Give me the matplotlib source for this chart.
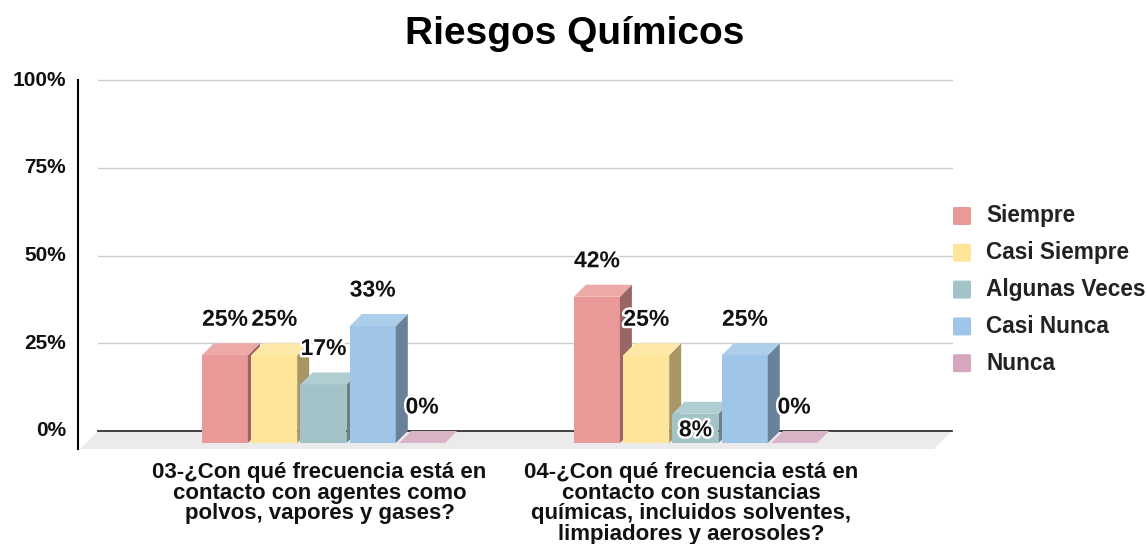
import numpy as np
import matplotlib.pyplot as plt
from matplotlib.patches import Polygon, FancyBboxPatch
import matplotlib.patheffects as pe
from matplotlib.colors import to_rgb

plt.rcParams['font.family'] = ['Liberation Sans', 'DejaVu Sans']
plt.rcParams['font.weight'] = 'bold'

categories = ['03-¿Con qué frecuencia está en\ncontacto con agentes como\npolvos, vapores y gases?',
              '04-¿Con qué frecuencia está en\ncontacto con sustancias\nquímicas, incluidos solventes,\nlimpiadores y aerosoles?']
series = ['Siempre', 'Casi Siempre', 'Algunas Veces', 'Casi Nunca', 'Nunca']
values = {
    'Siempre':       [25.0, 41.67],
    'Casi Siempre':  [25.0, 25.0],
    'Algunas Veces': [16.67, 8.33],
    'Casi Nunca':    [33.33, 25.0],
    'Nunca':         [0.0, 0.0],
}
labels = {
    'Siempre':       ['25%', '42%'],
    'Casi Siempre':  ['25%', '25%'],
    'Algunas Veces': ['17%', '8%'],
    'Casi Nunca':    ['33%', '25%'],
    'Nunca':         ['0%', '0%'],
}
colors = ['#EA9999', '#FFE599', '#A2C4C9', '#9FC5E8', '#D5A6BD']
yticks = [0, 25, 50, 75, 100]
ytick_labels = ['0%', '25%', '50%', '75%', '100%']

W, H = 1147, 544
fig = plt.figure(figsize=(W / 100, H / 100), dpi=100)
ax = fig.add_axes([0, 0, 1, 1])
ax.axis('off')

# pixel layout of the front plane: x=0 -> 323.5px, 1 unit = 372px; y=0 -> 443px, 100% = 351px
px_x = 372.0
px_y = 3.51
x0_px, y0_px = 323.5, 443.0
ax.set_xlim(-x0_px / px_x, (W - x0_px) / px_x)
ax.set_ylim(-(H - y0_px) / px_y, y0_px / px_y)

def X(px):
    return (px - x0_px) / px_x

DX = 12 / px_x   # depth offset
DY = 12 / px_y
pitch = 49.3 / px_x
bw = 46 / px_x

# the one label the original moved inside its bar (px offset from bar top, + = up)
label_lift = {('Algunas Veces', 1): -16}

wall_l, wall_r = X(98) - DX, X(952) - DX

# floor
t0 = -0.5
floor = Polygon([(wall_l + t0 * DX, t0 * DY), (wall_r + t0 * DX, t0 * DY),
                 (wall_r + DX, DY), (wall_l + DX, DY)],
                closed=True, facecolor='#EBEBEB', edgecolor='none', zorder=1)
ax.add_patch(floor)

for v in yticks[1:]:
    ax.plot([wall_l + DX, wall_r + DX], [v + DY, v + DY], color='#CCCCCC', lw=1, zorder=0.5)
ax.plot([wall_l + DX, wall_r + DX], [DY, DY], color='#333333', lw=1.3, zorder=1.5)

# y axis line
ax.plot([X(78), X(78)], [100 + DY, -6 / px_y], color='black', lw=1.5, zorder=2)

for v, lab in zip(yticks, ytick_labels):
    ax.text(X(66), v + DY, lab, ha='right', va='center', fontsize=15,
            fontweight='bold', color='#111111')

def shade(c, f):
    r = np.array(to_rgb(c))
    return tuple(r * f)

def tint(c, f):
    r = np.array(to_rgb(c))
    return tuple(r + (1 - r) * f)

z = 3
for gi in range(len(categories)):
    start = gi - (len(series) * pitch - (pitch - bw)) / 2
    for si, name in enumerate(series):
        v = values[name][gi]
        c = colors[si]
        xl = start + si * pitch
        xr = xl + bw
        if v > 0:
            ax.add_patch(Polygon([(xl, 0), (xr, 0), (xr, v), (xl, v)], closed=True,
                                 facecolor=c, edgecolor='none', zorder=z))
            ax.add_patch(Polygon([(xr, 0), (xr + DX, DY), (xr + DX, v + DY), (xr, v)], closed=True,
                                 facecolor=shade(c, 0.66), edgecolor='none', zorder=z))
        ax.add_patch(Polygon([(xl, v), (xr, v), (xr + DX, v + DY), (xl + DX, v + DY)], closed=True,
                             facecolor=tint(c, 0.15), edgecolor='none', zorder=z))
        z += 1
        lift = label_lift.get((name, gi), 36)
        ax.text((xl + xr) / 2, v + lift / px_y, labels[name][gi], ha='center', va='center',
                fontsize=16.5, fontweight='bold', color='#111111', zorder=50,
                path_effects=[pe.withStroke(linewidth=3.5, foreground='white')])
    ax.text(gi - 4 / px_x, -(462 - 443) / px_y, categories[gi], ha='center', va='top',
            fontsize=16, fontweight='bold', color='#111111', linespacing=0.98)

fig.text(575 / W, 1 - 44 / H, 'Riesgos Químicos', ha='center', va='baseline',
         fontsize=28, fontweight='bold', color='black')

for i, name in enumerate(series):
    yc = 216 + i * 36.8
    fig.patches.append(FancyBboxPatch((953 / W, 1 - (yc + 9) / H), 18 / W, 18 / H,
                                      boxstyle='round,pad=0,rounding_size=0.002',
                                      transform=fig.transFigure, facecolor=colors[i],
                                      edgecolor='none'))
    fig.text(986 / W, 1 - yc / H, name, ha='left', va='center', fontsize=16.3,
             fontweight='bold', color='#222222')

fig.savefig('out.png', dpi=100)
